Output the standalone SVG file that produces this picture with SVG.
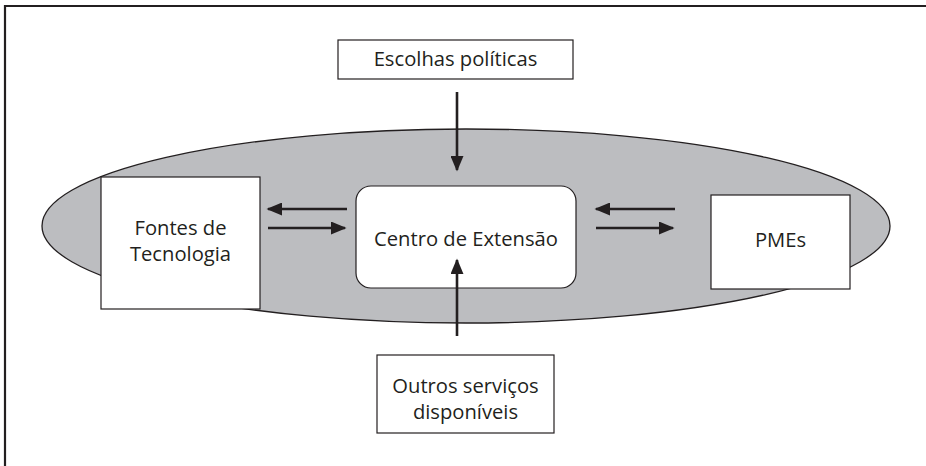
<svg xmlns="http://www.w3.org/2000/svg" width="926" height="466" viewBox="0 0 926 466">
<style>
.box{fill:#fff;stroke:#231f20;stroke-width:1.2}
.t{font-family:"Open Sans","Noto Sans",sans-serif;font-size:20.2px;fill:#231f20;text-anchor:middle}
.c{stroke:#231f20;stroke-width:2.6;fill:none}
</style>
<defs>
<marker id="ah" viewBox="0 0 10 10" refX="9" refY="5" markerWidth="6" markerHeight="5" markerUnits="strokeWidth" orient="auto" preserveAspectRatio="none">
<path d="M0,0 L10,5 L0,10 Z" fill="#231f20"/>
</marker>
</defs>
<rect width="926" height="466" fill="#fff"/>
<path d="M5,470 L5,6 L930,6" fill="none" stroke="#231f20" stroke-width="2.2"/>
<ellipse id="ambiente" cx="466" cy="226" rx="424" ry="97" fill="#bcbdc0" stroke="#231f20" stroke-width="1.3"/>
<g id="escolhas">
<rect class="box" x="338" y="40" width="235" height="39"/>
<text class="t" x="455.5" y="66">Escolhas políticas</text>
</g>
<g id="fontes">
<rect class="box" x="101" y="177" width="159" height="132"/>
<text class="t" x="180.5" y="234.5">Fontes de</text>
<text class="t" x="180.5" y="260.5">Tecnologia</text>
</g>
<g id="centro">
<rect class="box" x="356" y="186" width="220" height="102" rx="15"/>
<text class="t" x="466" y="246">Centro de Extensão</text>
</g>
<g id="pmes">
<rect class="box" x="711" y="195" width="139" height="94"/>
<text class="t" x="780.5" y="247">PMEs</text>
</g>
<g id="outros">
<rect class="box" x="377" y="355" width="177" height="78"/>
<text class="t" x="465.5" y="392.5">Outros serviços</text>
<text class="t" x="465.5" y="418.5">disponíveis</text>
</g>
<g id="connectors">
<line class="c" x1="457" y1="92" x2="457" y2="170" marker-end="url(#ah)"/>
<line class="c" x1="457" y1="336" x2="457" y2="260" marker-end="url(#ah)"/>
<line class="c" x1="347" y1="209" x2="268" y2="209" marker-end="url(#ah)"/>
<line class="c" x1="268" y1="228" x2="345" y2="228" marker-end="url(#ah)"/>
<line class="c" x1="675" y1="209" x2="596" y2="209" marker-end="url(#ah)"/>
<line class="c" x1="596" y1="228" x2="673" y2="228" marker-end="url(#ah)"/>
</g>
</svg>
